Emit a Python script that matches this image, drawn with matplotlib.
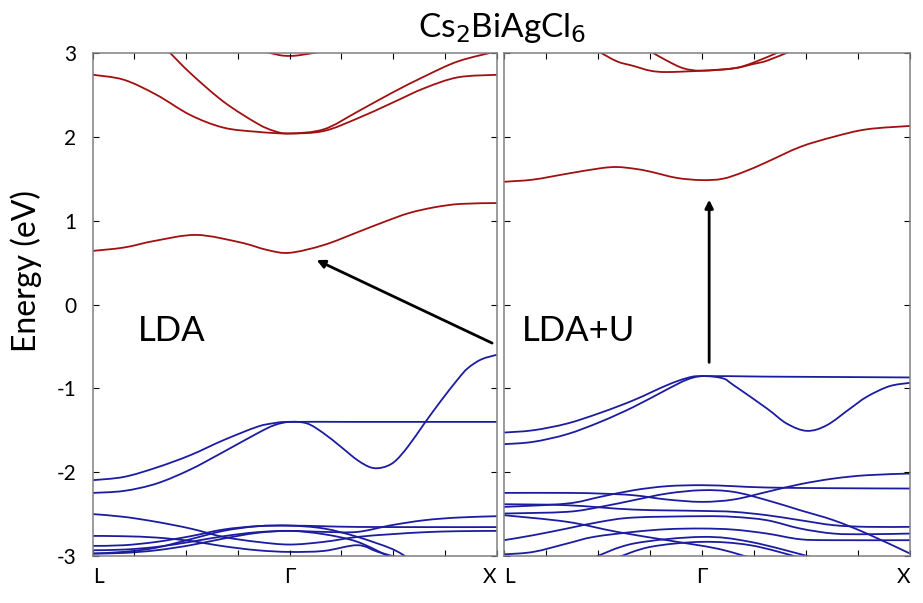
import matplotlib
matplotlib.use("Agg")
import matplotlib.pyplot as plt
from matplotlib.path import Path
from matplotlib.patches import PathPatch

RED = "#a01010"
BLUE = "#1c1ca0"

# high-symmetry points (k-path units)
K_L = 0.0
K_G = 3.8
K_X = 7.8
kpt_labels = ["L", "\u0393", "X"]

# ---------------- LDA ----------------
lda_c1_k = [0, 0.6, 1.2, 2.0, 2.85, 3.37, 3.8, 4.46, 5.1, 5.6, 6.1, 6.6, 7.1, 7.8]
lda_c1_e = [0.64, 0.68, 0.76, 0.83, 0.74, 0.65, 0.617, 0.71, 0.86, 0.98, 1.09, 1.16, 1.20, 1.21]
lda_c2_k = [0, 0.6, 1.23, 1.88, 2.52, 3.17, 3.8, 4.46, 5.11, 5.76, 6.4, 7.05, 7.8]
lda_c2_e = [2.74, 2.68, 2.50, 2.26, 2.11, 2.06, 2.04, 2.07, 2.22, 2.40, 2.58, 2.71, 2.74]
lda_c3_k = [1.46, 1.88, 2.52, 3.17, 3.5, 3.8, 4.46, 5.11, 5.76, 6.4, 7.05, 7.8]
lda_c3_e = [3.02, 2.76, 2.42, 2.16, 2.07, 2.04, 2.09, 2.30, 2.52, 2.72, 2.90, 3.02]
lda_c4_k = [3.3, 3.6, 3.8, 4.0, 4.45]
lda_c4_e = [3.02, 2.975, 2.965, 2.975, 3.02]

lda_v1_k = [0, 0.6, 1.23, 1.88, 2.52, 3.17, 3.5, 3.8, 5.0, 6.5, 7.8]
lda_v1_e = [-2.095, -2.056, -1.944, -1.797, -1.618, -1.459, -1.415, -1.40, -1.40, -1.40, -1.40]
lda_v2_k = [0, 0.6, 1.23, 1.88, 2.52, 3.17, 3.5, 3.8, 4.14, 4.46, 4.79, 5.11, 5.37, 5.59,
            5.82, 6.08, 6.4, 6.72, 7.05, 7.24, 7.5, 7.8]
lda_v2_e = [-2.247, -2.223, -2.135, -1.968, -1.758, -1.538, -1.44, -1.40, -1.42, -1.538, -1.698,
            -1.857, -1.944, -1.944, -1.877, -1.698, -1.42, -1.15, -0.89, -0.76, -0.655, -0.60]
lda_v3_k = [0, 0.6, 1.23, 1.88, 2.52, 3.17, 3.8, 4.46, 5.11, 5.76, 6.4, 7.05, 7.8]
lda_v3_e = [-2.50, -2.533, -2.593, -2.672, -2.772, -2.831, -2.863, -2.831, -2.772, -2.740, -2.716, -2.704, -2.70]
lda_v4_k = [0, 0.6, 1.23, 1.88, 2.52, 3.17, 3.8, 4.46, 5.11, 6.4, 7.8]
lda_v4_e = [-2.97, -2.95, -2.90, -2.80, -2.70, -2.645, -2.637, -2.645, -2.653, -2.655, -2.655]
lda_v5_k = [0, 0.6, 1.23, 1.88, 2.52, 3.17, 3.8, 4.46, 5.11, 5.76, 6.08]
lda_v5_e = [-2.879, -2.871, -2.831, -2.764, -2.684, -2.644, -2.637, -2.672, -2.772, -2.911, -3.02]
lda_v6_k = [0, 0.6, 1.23, 1.88, 2.52, 3.17, 3.8, 4.46, 5.11, 5.76, 6.4, 7.05, 7.8]
lda_v6_e = [-2.931, -2.923, -2.891, -2.831, -2.764, -2.716, -2.70, -2.712, -2.712, -2.633, -2.573, -2.541, -2.525]
lda_v7_k = [0, 0.6, 1.23, 1.88, 2.52, 3.17, 3.8, 4.46, 5.11, 5.5, 5.9]
lda_v7_e = [-2.76, -2.764, -2.780, -2.820, -2.883, -2.931, -2.951, -2.939, -2.871, -2.95, -3.02]
lda_v8_k = [0, 0.6, 1.23, 1.88, 2.52, 3.17, 3.8, 4.46, 5.11, 5.76]
lda_v8_e = [-2.971, -2.963, -2.931, -2.871, -2.792, -2.724, -2.70, -2.740, -2.831, -3.02]

# ---------------- LDA+U ----------------
ldau_c1_k = [0, 0.56, 1.21, 1.85, 2.17, 2.5, 2.81, 3.32, 3.8, 4.2, 4.6, 5.05, 5.69, 6.33, 6.97, 7.8]
ldau_c1_e = [1.464, 1.49, 1.56, 1.625, 1.64, 1.62, 1.585, 1.51, 1.484, 1.50, 1.58, 1.70, 1.88, 2.0, 2.09, 2.13]
ldau_c2_k = [1.81, 2.17, 2.49, 2.81, 3.13, 3.8, 4.41, 4.79, 5.05, 5.5]
ldau_c2_e = [3.02, 2.90, 2.845, 2.789, 2.773, 2.789, 2.817, 2.869, 2.908, 3.02]
ldau_c3_k = [2.81, 3.13, 3.45, 3.8, 4.41, 4.79, 5.31]
ldau_c3_e = [3.02, 2.908, 2.817, 2.789, 2.817, 2.885, 3.02]

ldau_v1_k = [0, 0.56, 1.21, 1.85, 2.49, 3.13, 3.5, 3.8, 5.0, 6.5, 7.8]
ldau_v1_e = [-1.527, -1.50, -1.42, -1.292, -1.141, -0.962, -0.88, -0.854, -0.86, -0.865, -0.87]
ldau_v2_k = [0, 0.56, 1.21, 1.85, 2.49, 3.13, 3.5, 3.8, 4.2, 4.41, 5.05, 5.43, 5.82,
             6.2, 6.65, 6.97, 7.4, 7.8]
ldau_v2_e = [-1.666, -1.638, -1.547, -1.40, -1.221, -1.013, -0.90, -0.854, -0.88, -0.962, -1.24,
             -1.42, -1.507, -1.44, -1.24, -1.10, -0.975, -0.934]
ldau_v3_k = [0, 1.21, 1.85, 2.49, 3.13, 3.8, 4.41, 5.05, 5.69, 6.33, 6.97, 7.8]
ldau_v3_e = [-2.247, -2.247, -2.255, -2.275, -2.326, -2.354, -2.326, -2.235, -2.143, -2.076, -2.036, -2.016]
ldau_v4_k = [0, 1.21, 1.85, 2.49, 3.13, 3.8, 4.41, 5.05, 6.33, 7.8]
ldau_v4_e = [-2.414, -2.374, -2.294, -2.215, -2.167, -2.155, -2.167, -2.183, -2.191, -2.195]
ldau_v5_k = [0, 1.21, 1.85, 2.49, 3.13, 3.8, 4.41, 5.05, 5.69, 6.33, 6.97, 7.8]
ldau_v5_e = [-2.493, -2.473, -2.414, -2.334, -2.255, -2.215, -2.235, -2.334, -2.454, -2.573, -2.732, -2.971]
ldau_v6_k = [0, 1.21, 2.49, 3.8, 4.41, 5.05, 5.69, 6.33, 6.97, 7.8]
ldau_v6_e = [-2.382, -2.394, -2.446, -2.462, -2.473, -2.513, -2.573, -2.632, -2.652, -2.652]
ldau_v7_k = [0, 0.56, 1.21, 1.85, 2.49, 3.8, 4.41, 5.05, 5.69, 6.33, 6.97, 7.8]
ldau_v7_e = [-2.811, -2.752, -2.672, -2.592, -2.541, -2.525, -2.533, -2.573, -2.672, -2.732, -2.740, -2.732]
ldau_v8_k = [0, 1.21, 2.17, 3.13, 4.09, 4.73]
ldau_v8_e = [-2.513, -2.592, -2.712, -2.811, -2.911, -3.02]
ldau_v9_k = [0, 0.56, 1.21, 1.72, 2.49, 3.13, 3.8, 4.41, 5.05, 5.69, 6.33, 7.8]
ldau_v9_e = [-2.98, -2.951, -2.851, -2.772, -2.712, -2.68, -2.672, -2.685, -2.732, -2.80, -2.811, -2.811]
ldau_v10_k = [1.72, 2.49, 3.8, 4.73, 5.95]
ldau_v10_e = [-3.02, -2.851, -2.772, -2.831, -3.02]
ldau_v11_k = [2.17, 2.81, 3.8, 4.73, 5.69]
ldau_v11_e = [-3.02, -2.891, -2.831, -2.871, -3.02]

lda_cond = [(lda_c1_k, lda_c1_e), (lda_c2_k, lda_c2_e), (lda_c3_k, lda_c3_e), (lda_c4_k, lda_c4_e)]
lda_val = [(lda_v1_k, lda_v1_e), (lda_v2_k, lda_v2_e), (lda_v3_k, lda_v3_e), (lda_v4_k, lda_v4_e),
           (lda_v5_k, lda_v5_e), (lda_v6_k, lda_v6_e), (lda_v7_k, lda_v7_e), (lda_v8_k, lda_v8_e)]
ldau_cond = [(ldau_c1_k, ldau_c1_e), (ldau_c2_k, ldau_c2_e), (ldau_c3_k, ldau_c3_e)]
ldau_val = [(ldau_v1_k, ldau_v1_e), (ldau_v2_k, ldau_v2_e), (ldau_v3_k, ldau_v3_e),
            (ldau_v4_k, ldau_v4_e), (ldau_v5_k, ldau_v5_e), (ldau_v6_k, ldau_v6_e),
            (ldau_v7_k, ldau_v7_e), (ldau_v8_k, ldau_v8_e), (ldau_v9_k, ldau_v9_e),
            (ldau_v10_k, ldau_v10_e), (ldau_v11_k, ldau_v11_e)]

plt.rcParams["font.family"] = ["Lato", "DejaVu Sans"]


def band_path(k, e):
    # smooth curve through the read points (Catmull-Rom as cubic Bezier)
    pts = list(zip(k, e))
    verts = [pts[0]]
    codes = [Path.MOVETO]
    n = len(pts)
    for i in range(n - 1):
        p0 = pts[max(i - 1, 0)]
        p1 = pts[i]
        p2 = pts[i + 1]
        p3 = pts[min(i + 2, n - 1)]
        c1 = (p1[0] + (p2[0] - p0[0]) / 6, p1[1] + (p2[1] - p0[1]) / 6)
        c2 = (p2[0] - (p3[0] - p1[0]) / 6, p2[1] - (p3[1] - p1[1]) / 6)
        verts += [c1, c2, p2]
        codes += [Path.CURVE4] * 3
    return Path(verts, codes)


fig = plt.figure(figsize=(9.23, 6.03), dpi=100)
ax1 = fig.add_axes([0.1008, 0.0779, 0.4374, 0.8342])
ax2 = fig.add_axes([0.5461, 0.0779, 0.4399, 0.8342])


def style(ax, show_y):
    ax.set_xlim(K_L, K_X)
    ax.set_ylim(-3, 3)
    for s in ax.spines.values():
        s.set_color("#808080")
        s.set_linewidth(1.1)
    ax.set_xticks([K_L, K_G, K_X])
    ax.set_xticklabels(kpt_labels, fontsize=15)
    lbls = ax.get_xticklabels()
    lbls[0].set_ha("left")
    lbls[2].set_ha("right")
    ax.set_xticks([0.8, 1.8, 2.8, 4.8, 5.8, 6.8], minor=True)
    ax.set_yticks(range(-3, 4))
    if show_y:
        ax.set_yticklabels([str(v) for v in range(-3, 4)], fontsize=15)
    else:
        ax.set_yticklabels([])
    ax.tick_params(which="both", direction="in", top=True, right=True,
                   length=4, width=0.8, color="black", pad=8)
    ax.tick_params(axis="y", pad=12)


for ax, cond, val in [(ax1, lda_cond, lda_val), (ax2, ldau_cond, ldau_val)]:
    for k, e in cond:
        ax.add_patch(PathPatch(band_path(k, e), fill=False, edgecolor=RED, lw=1.3))
    for k, e in val:
        ax.add_patch(PathPatch(band_path(k, e), fill=False, edgecolor=BLUE, lw=1.3))

style(ax1, True)
style(ax2, False)

ax1.text(0.87, -0.31, "LDA", fontsize=25, ha="left", va="center")
ax2.text(0.35, -0.31, "LDA+U", fontsize=25, ha="left", va="center")

arrow = dict(arrowstyle="-|>", lw=2, color="black", mutation_scale=12, shrinkA=0, shrinkB=0)
ax1.annotate("", xy=(4.32, 0.53), xytext=(7.71, -0.46), arrowprops=arrow)
ax2.annotate("", xy=(3.94, 1.25), xytext=(3.94, -0.69), arrowprops=arrow)

fig.text(0.544, 0.954, "Cs$_2$BiAgCl$_6$", fontsize=24, ha="center", va="center")
fig.text(0.028, 0.551, "Energy (eV)", fontsize=23, rotation=90, ha="center", va="center")

fig.savefig("out.png", dpi=100)
